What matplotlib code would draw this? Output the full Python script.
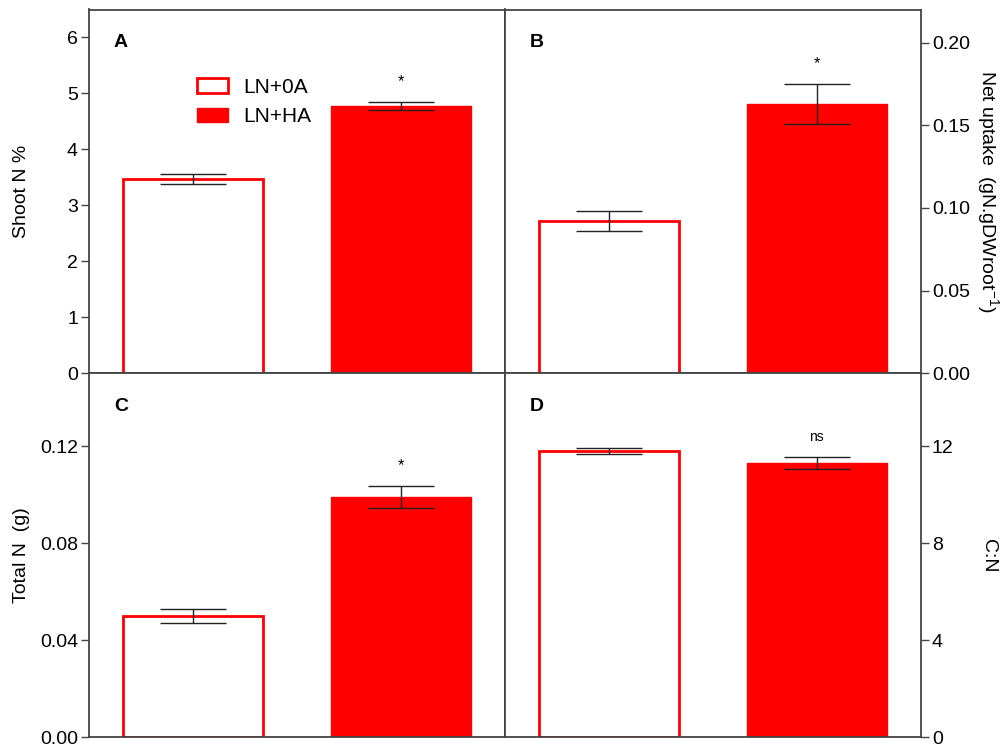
import numpy as np
import matplotlib
matplotlib.use('Agg')
import matplotlib.pyplot as plt
from matplotlib.patches import Patch

plt.rcParams['font.family'] = ['Liberation Sans', 'DejaVu Sans']
plt.rcParams['mathtext.default'] = 'regular'

groups = ['LN+0A', 'LN+HA']

shoot_n = [3.47, 4.78]
shoot_n_err = [0.09, 0.07]

net_uptake = [0.092, 0.163]
net_uptake_err = [0.006, 0.012]

total_n = [0.050, 0.099]
total_n_err = [0.0028, 0.0047]

cn_ratio = [11.8, 11.3]
cn_ratio_err = [0.13, 0.25]

signif = ['*', '*', '*', 'ns']

red = '#FF0000'
spine_col = '#444444'

fig = plt.figure(figsize=(10.08, 7.49), dpi=100)

x0, xm, x1 = 89 / 1008, 505 / 1008, 920.7 / 1008
y0, ym, y1 = 1 - 737.3 / 749, 1 - 373.3 / 749, 1 - 9.5 / 749

axA = fig.add_axes([x0, ym, xm - x0, y1 - ym])
axB = fig.add_axes([xm, ym, x1 - xm, y1 - ym])
axC = fig.add_axes([x0, y0, xm - x0, ym - y0])
axD = fig.add_axes([xm, y0, x1 - xm, ym - y0])

panels = [
    (axA, shoot_n, shoot_n_err, 'A', (0, 6.5), [0, 1, 2, 3, 4, 5, 6], ['0', '1', '2', '3', '4', '5', '6'], 'left',
     'Shoot N %'),
    (axB, net_uptake, net_uptake_err, 'B', (0, 0.22), [0, 0.05, 0.10, 0.15, 0.20],
     ['0.00', '0.05', '0.10', '0.15', '0.20'], 'right', 'Net uptake  (gN.gDWroot$^{-1}$)'),
    (axC, total_n, total_n_err, 'C', (0, 0.15), [0, 0.04, 0.08, 0.12],
     ['0.00', '0.04', '0.08', '0.12'], 'left', 'Total N  (g)'),
    (axD, cn_ratio, cn_ratio_err, 'D', (0, 15), [0, 4, 8, 12], ['0', '4', '8', '12'], 'right', 'C:N'),
]

xpos = np.arange(len(groups))

for i, (ax, vals, errs, lab, ylim, yt, ytl, side, ylab) in enumerate(panels):
    ax.bar(xpos[0], vals[0], width=0.675, facecolor='white', edgecolor=red, linewidth=2)
    ax.bar(xpos[1], vals[1], width=0.675, facecolor=red, edgecolor=red, linewidth=1)
    ax.errorbar(xpos, vals, yerr=errs, fmt='none', ecolor='#222222', elinewidth=1,
                capsize=24, capthick=1)
    ax.set_xlim(-0.5, 1.5)
    ax.set_ylim(*ylim)
    ax.set_xticks([])
    ax.set_yticks(yt)
    ax.set_yticklabels(ytl)
    for sp in ax.spines.values():
        sp.set_color(spine_col)
        sp.set_linewidth(1.3)
    if side == 'right':
        ax.yaxis.tick_right()
        ax.yaxis.set_label_position('right')
        ax.set_ylabel(ylab, fontsize=14, rotation=270, va='center', ha='center')
        ax.yaxis.set_label_coords(1.162, 0.5)
    else:
        ax.set_ylabel(ylab, fontsize=14, va='center', ha='center')
        ax.yaxis.set_label_coords(-0.162, 0.5)
    ax.tick_params(axis='y', direction='out', length=6, width=1, colors=spine_col,
                   labelcolor='black', labelsize=14, pad=2)
    ax.text(0.06, 0.91, lab, transform=ax.transAxes, fontsize=14, fontweight='bold', va='center')
    # significance mark above the HA bar
    top = vals[1] + errs[1]
    ax.text(xpos[1], top + (ylim[1] - ylim[0]) * 0.035, signif[i], ha='center', va='bottom',
            fontsize=10 if signif[i] == 'ns' else 12)

handles = [Patch(facecolor='white', edgecolor=red, linewidth=2, label=groups[0]),
           Patch(facecolor=red, edgecolor=red, label=groups[1])]
axA.legend(handles=handles, loc='upper left', bbox_to_anchor=(0.26, 0.812), frameon=False,
           borderpad=0, borderaxespad=0, fontsize=15, handlelength=1.5, handleheight=0.72,
           handletextpad=0.72, labelspacing=0.5)

fig.savefig('out.png', dpi=100)
